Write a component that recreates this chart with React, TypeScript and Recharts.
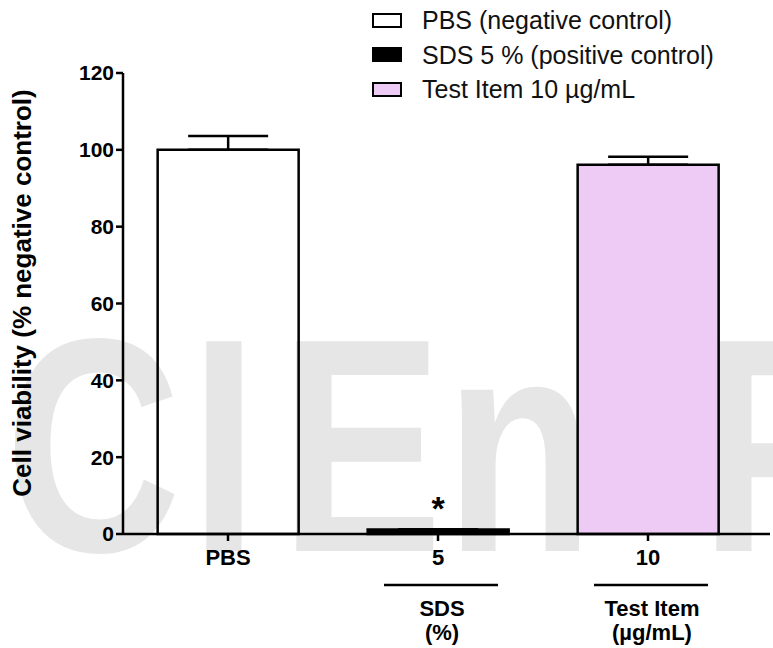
import React from 'react';
import { BarChart, Bar, XAxis, YAxis, ErrorBar, Cell, LabelList } from 'recharts';

const categories = ['PBS', '5', '10'];
const groupNames = ['', 'SDS', 'Test Item'];
const groupUnits = ['', '(%)', '(µg/mL)'];
const viability = [100, 1.2, 96.1];
const sem = [3.6, 0, 2.1];
const significance = ['', '*', ''];
const barFills = ['none', '#000000', '#EDCBF5'];
const legendLabels = ['PBS (negative control)', 'SDS 5 % (positive control)', 'Test Item 10 µg/mL'];
const legendFills = ['#FFFFFF', '#000000', '#EDCBF5'];
const yTicks = [0, 20, 40, 60, 80, 100, 120];
const watermark = ['C', 'I', 'E', 'n', 'P'];
const yLabel = 'Cell viability (% negative control)';

const FONT = '"Liberation Sans", Arial, Helvetica, sans-serif';

const data = categories.map((c, i) => ({
  name: c,
  value: viability[i],
  err: [0, sem[i]],
  sig: significance[i],
}));

const XTick = (props: any) => {
  const { x, y, payload } = props;
  const i = categories.indexOf(payload.value);
  const g = groupNames[i];
  const u = groupUnits[i];
  return (
    <g fontFamily={FONT} fontWeight="bold" fill="#000">
      <text x={x} y={y + 22} textAnchor="middle" fontSize={22}>{payload.value}</text>
      {g ? (
        <g>
          <line x1={x - 54} x2={x + 60} y1={y + 42} y2={y + 42} stroke="#000" strokeWidth={2.5} />
          <text x={x + 4} y={y + 73} textAnchor="middle" fontSize={22}>{g}</text>
          <text x={x + 4} y={y + 97} textAnchor="middle" fontSize={22}>{u}</text>
        </g>
      ) : null}
    </g>
  );
};

const SigLabel = (props: any) => {
  const { x, y, width, value } = props;
  if (!value) return null;
  return (
    <text x={x + width / 2} y={y - 9} textAnchor="middle" fontSize={34} fontWeight="bold" fontFamily={FONT} fill="#000">
      {value}
    </text>
  );
};

const YLabel = () => (
  <text
    x={22}
    y={293}
    transform="rotate(-90 22 293)"
    textAnchor="middle"
    dominantBaseline="central"
    fontSize={26}
    fontWeight="bold"
    fontFamily={FONT}
    fill="#000"
  >
    {yLabel}
  </text>
);

const wmX = [5, 190, 280, 445, 700];

export default function App() {
  return (
    <div style={{ position: 'absolute', left: 0, top: 0, width: 773, height: 648, background: '#fff', overflow: 'hidden' }}>
      <svg width={773} height={648} style={{ position: 'absolute', left: 0, top: 0 }}>
        {watermark.map((l, i) => (
          <text
            key={i}
            transform={`translate(${wmX[i]},551) scale(0.8,1)`}
            fontSize={305}
            fontWeight="bold"
            fontFamily={FONT}
            fill="#E6E6E6"
          >
            {l}
          </text>
        ))}
      </svg>
      <div style={{ position: 'absolute', left: 0, top: 0 }}>
        <BarChart width={773} height={648} data={data} margin={{ top: 73, right: 3, left: 63, bottom: 0 }} barCategoryGap="16.5%">
          <XAxis
            dataKey="name"
            height={114}
            padding={{ left: 0, right: 17 }}
            axisLine={{ stroke: '#000', strokeWidth: 2.5 }}
            tickLine={{ stroke: '#000', strokeWidth: 2.5 }}
            tickSize={7}
            tick={<XTick />}
            interval={0}
          />
          <YAxis
            width={60}
            domain={[0, 120]}
            ticks={yTicks}
            interval={0}
            axisLine={{ stroke: '#000', strokeWidth: 2.5 }}
            tickLine={{ stroke: '#000', strokeWidth: 2.5 }}
            tickSize={7}
            tick={{ fontSize: 21, fontWeight: 'bold', fill: '#000', fontFamily: FONT }}
            label={<YLabel />}
          />
          <Bar dataKey="value" stroke="#000" strokeWidth={2.5} isAnimationActive={false}>
            {data.map((d, i) => (
              <Cell key={i} fill={barFills[i]} />
            ))}
            <ErrorBar dataKey="err" width={40} stroke="#000" strokeWidth={2.5} direction="y" />
            <LabelList dataKey="sig" content={<SigLabel />} />
          </Bar>
        </BarChart>
      </div>
      <div style={{ position: 'absolute', left: 372, top: 0, fontFamily: FONT, fontSize: 25, color: '#111' }}>
        {legendLabels.map((l, i) => (
          <div key={i} style={{ position: 'absolute', left: 0, top: 20 + i * 34.5 - 14, height: 28, whiteSpace: 'nowrap', display: 'flex', alignItems: 'center' }}>
            <div style={{ width: 26, height: 11, border: '2.5px solid #000', background: legendFills[i], boxSizing: 'content-box' }} />
            <span style={{ marginLeft: 20, lineHeight: '28px' }}>{l}</span>
          </div>
        ))}
      </div>
    </div>
  );
}
